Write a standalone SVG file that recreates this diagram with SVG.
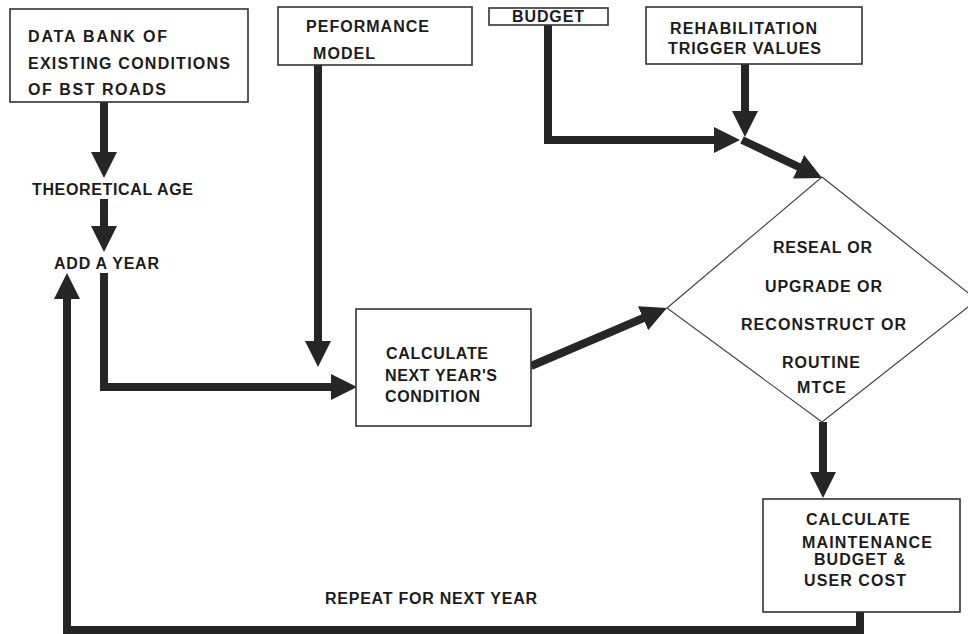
<svg xmlns="http://www.w3.org/2000/svg" width="968" height="634" viewBox="0 0 968 634">
<style>
  .box { fill: #ffffff; stroke: #333333; stroke-width: 1.6; }
  .dia { fill: none; stroke: #444444; stroke-width: 1.2; }
  .t { font-family: "Liberation Sans", Arial, sans-serif; font-weight: bold; font-size: 16px; fill: #1c1c1c; }
  .conn { fill: none; stroke: #262626; stroke-width: 8; stroke-linejoin: miter; }
</style>
<defs>
  <marker id="ah" markerUnits="userSpaceOnUse" viewBox="0 0 26 26" markerWidth="26" markerHeight="26" refX="12" refY="13" orient="auto">
    <path d="M0,0 L26,13 L0,26 Z" fill="#262626"/>
  </marker>
</defs>
<rect width="968" height="634" fill="#ffffff"/>

<g id="connectors">
  <path class="conn" d="M104,102 V164" marker-end="url(#ah)"/>
  <path class="conn" d="M104,199 V238" marker-end="url(#ah)"/>
  <path class="conn" d="M104,273 V387 H343" marker-end="url(#ah)"/>
  <path class="conn" d="M318,65 V353" marker-end="url(#ah)"/>
  <path class="conn" d="M531,366 L654.1,313.5" marker-end="url(#ah)"/>
  <path class="conn" d="M548,25 V140 H726" marker-end="url(#ah)"/>
  <path class="conn" d="M745,64 V123" marker-end="url(#ah)"/>
  <path class="conn" d="M742,140 L809.4,172" marker-end="url(#ah)"/>
  <path class="conn" d="M823,422 V484" marker-end="url(#ah)"/>
  <path class="conn" d="M860,612 V630 H67 V287" marker-end="url(#ah)"/>
</g>

<g id="data-bank">
  <rect class="box" x="10" y="9" width="238" height="93"/>
  <text class="t" x="28" y="42" textLength="139" lengthAdjust="spacing">DATA BANK OF</text>
  <text class="t" x="28" y="69" textLength="202" lengthAdjust="spacing">EXISTING CONDITIONS</text>
  <text class="t" x="28" y="95" textLength="138" lengthAdjust="spacing">OF BST ROADS</text>
</g>

<g id="performance-model">
  <rect class="box" x="278" y="7" width="194" height="58"/>
  <text class="t" x="306" y="32" textLength="123" lengthAdjust="spacing">PEFORMANCE</text>
  <text class="t" x="313" y="59" textLength="62" lengthAdjust="spacing">MODEL</text>
</g>

<g id="budget">
  <rect class="box" x="489" y="8" width="119" height="17"/>
  <text class="t" x="512" y="22" textLength="72" lengthAdjust="spacing">BUDGET</text>
</g>

<g id="rehab-trigger">
  <rect class="box" x="646" y="7" width="216" height="57"/>
  <text class="t" x="670" y="34" textLength="147" lengthAdjust="spacing">REHABILITATION</text>
  <text class="t" x="668" y="54" textLength="153" lengthAdjust="spacing">TRIGGER VALUES</text>
</g>

<g id="theoretical-age">
  <text class="t" x="32" y="195" textLength="161" lengthAdjust="spacing">THEORETICAL AGE</text>
</g>

<g id="add-a-year">
  <text class="t" x="54" y="269" textLength="105" lengthAdjust="spacing">ADD A YEAR</text>
</g>

<g id="calc-condition">
  <rect class="box" x="356" y="309" width="175" height="117"/>
  <text class="t" x="386" y="359" textLength="102" lengthAdjust="spacing">CALCULATE</text>
  <text class="t" x="385" y="381" textLength="112" lengthAdjust="spacing">NEXT YEAR'S</text>
  <text class="t" x="385" y="402" textLength="95" lengthAdjust="spacing">CONDITION</text>
</g>

<g id="decision">
  <polygon class="dia" points="822,177 977,300 822,422 667,308"/>
  <text class="t" x="773" y="253" textLength="99" lengthAdjust="spacing">RESEAL OR</text>
  <text class="t" x="765" y="292" textLength="117" lengthAdjust="spacing">UPGRADE OR</text>
  <text class="t" x="741" y="330" textLength="165" lengthAdjust="spacing">RECONSTRUCT OR</text>
  <text class="t" x="782" y="368" textLength="78" lengthAdjust="spacing">ROUTINE</text>
  <text class="t" x="797" y="393" textLength="49" lengthAdjust="spacing">MTCE</text>
</g>

<g id="calc-maintenance">
  <rect class="box" x="763" y="499" width="197" height="113"/>
  <text class="t" x="806" y="525" textLength="104" lengthAdjust="spacing">CALCULATE</text>
  <text class="t" x="802" y="548" textLength="130" lengthAdjust="spacing">MAINTENANCE</text>
  <text class="t" x="814" y="565" textLength="91" lengthAdjust="spacing">BUDGET &amp;</text>
  <text class="t" x="804" y="586" textLength="102" lengthAdjust="spacing">USER COST</text>
</g>

<g id="repeat-label">
  <text class="t" x="325" y="604" textLength="212" lengthAdjust="spacing">REPEAT FOR NEXT YEAR</text>
</g>
</svg>
